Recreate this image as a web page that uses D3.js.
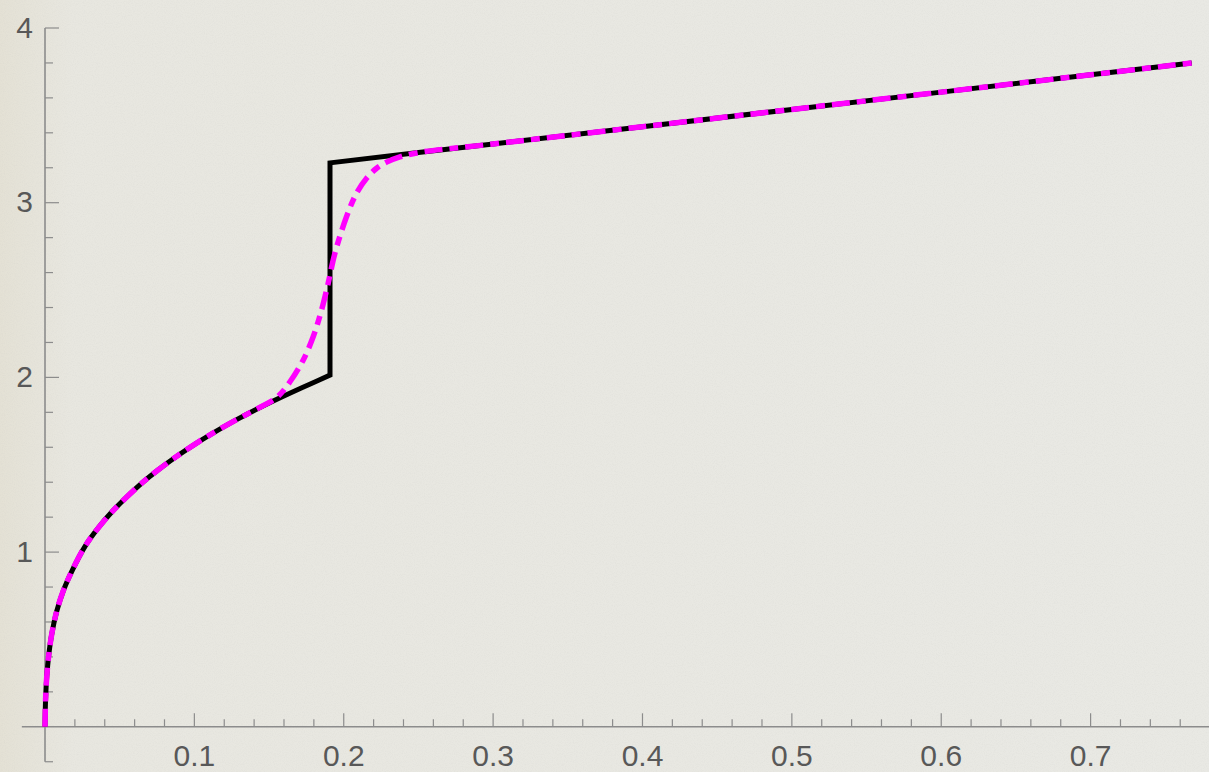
<!DOCTYPE html>
<html>
<head>
<meta charset="utf-8">
<script src="https://cdn.jsdelivr.net/npm/d3@7"></script>
<style>
  html, body { margin: 0; padding: 0; background: #e8e7e1; overflow: hidden; }
  svg { display: block; }
</style>
</head>
<body>
<svg id="chart" width="1209" height="772"></svg>
<script>
// Lower branch (shared by both curves up to the jump)
const lowerX = [0, 0.0004, 0.0012, 0.0025, 0.0045, 0.0078, 0.0123, 0.0185, 0.0268, 0.0357, 0.0450, 0.0547, 0.0650, 0.0748, 0.0880, 0.1015, 0.1150, 0.1283, 0.1400, 0.1528, 0.1650, 0.1780, 0.1908];
const lowerY = [0, 0.16, 0.29, 0.41, 0.53, 0.66, 0.78, 0.90, 1.033, 1.139, 1.232, 1.315, 1.396, 1.464, 1.547, 1.624, 1.694, 1.758, 1.811, 1.865, 1.914, 1.964, 2.013];

// Upper branch after the jump
const upperX = [0.1908, 0.25, 0.3, 0.4, 0.5, 0.6, 0.7, 0.7677];
const upperY = [3.228, 3.287, 3.336, 3.435, 3.534, 3.633, 3.732, 3.80];

// Smooth transition of the dot-dashed curve across the jump
const smoothX = [0.1551, 0.1640, 0.1729, 0.1796, 0.1852, 0.1896, 0.1941, 0.2019, 0.2086, 0.2153, 0.2220, 0.2287, 0.2376];
const smoothY = [1.885, 1.975, 2.100, 2.234, 2.387, 2.540, 2.711, 2.921, 3.055, 3.140, 3.197, 3.232, 3.262];

// Axis ticks
const xMajorTicks = [0.1, 0.2, 0.3, 0.4, 0.5, 0.6, 0.7];
const xTickLabels = ["0.1", "0.2", "0.3", "0.4", "0.5", "0.6", "0.7"];
const yMajorTicks = [1, 2, 3, 4];
const yTickLabels = ["1", "2", "3", "4"];

const W = 1209, H = 772;
const svg = d3.select("#chart");

const x = d3.scaleLinear().domain([0, 0.7]).range([45, 1090.6]);
const y = d3.scaleLinear().domain([0, 4]).range([726.8, 28]);

// Background with a faint paper grain
const defs = svg.append("defs");
const grad = defs.append("linearGradient").attr("id", "bg").attr("x1", 0).attr("x2", 1).attr("y1", 0).attr("y2", 0);
grad.append("stop").attr("offset", "0").attr("stop-color", "#e4e1d5");
grad.append("stop").attr("offset", "0.06").attr("stop-color", "#e8e7e0");
grad.append("stop").attr("offset", "1").attr("stop-color", "#e9e9e4");
const grain = defs.append("filter").attr("id", "grain").attr("x", 0).attr("y", 0).attr("width", "100%").attr("height", "100%");
grain.append("feTurbulence").attr("type", "fractalNoise").attr("baseFrequency", 0.9).attr("numOctaves", 2).attr("seed", 3);
grain.append("feColorMatrix").attr("type", "matrix")
  .attr("values", "0 0 0 0 0.5  0 0 0 0 0.5  0 0 0 0 0.48  0 0 0 0.9 -0.35");
svg.append("rect").attr("width", W).attr("height", H).attr("fill", "url(#bg)");
svg.append("rect").attr("width", W).attr("height", H).attr("filter", "url(#grain)").attr("opacity", 0.25);

const axisColor = "#8c8c8c";
const labelColor = "#585858";
const font = "'Liberation Sans', Arial, sans-serif";

// X axis line and ticks
const gx = svg.append("g");
gx.append("line")
  .attr("x1", x(-0.0155)).attr("x2", W)
  .attr("y1", y(0)).attr("y2", y(0))
  .attr("stroke", axisColor).attr("stroke-width", 1.6);
const xMinor = d3.range(1, 40).map(i => i * 0.02).filter(v => x(v) < W && Math.abs(v * 10 - Math.round(v * 10)) > 1e-6);
gx.selectAll(".xminor").data(xMinor).join("line")
  .attr("x1", d => x(d)).attr("x2", d => x(d))
  .attr("y1", y(0)).attr("y2", y(0) - 7.5)
  .attr("stroke", axisColor).attr("stroke-width", 1.2);
gx.selectAll(".xmajor").data(xMajorTicks).join("line")
  .attr("x1", d => x(d)).attr("x2", d => x(d))
  .attr("y1", y(0)).attr("y2", y(0) - 13.5)
  .attr("stroke", axisColor).attr("stroke-width", 1.2);
gx.selectAll("text").data(xMajorTicks).join("text")
  .attr("x", d => x(d)).attr("y", 766)
  .attr("text-anchor", "middle")
  .attr("font-family", font)
  .attr("font-size", 30).attr("fill", labelColor)
  .text((d, i) => xTickLabels[i]);

// Y axis line and ticks
const gy = svg.append("g");
gy.append("line")
  .attr("x1", x(0)).attr("x2", x(0))
  .attr("y1", y(-0.2)).attr("y2", y(4))
  .attr("stroke", axisColor).attr("stroke-width", 1.6);
const yMinor = d3.range(-1, 21).map(i => i * 0.2).filter(v => Math.abs(v - Math.round(v)) > 1e-6);
gy.selectAll(".yminor").data(yMinor).join("line")
  .attr("x1", x(0)).attr("x2", x(0) + 8)
  .attr("y1", d => y(d)).attr("y2", d => y(d))
  .attr("stroke", axisColor).attr("stroke-width", 1.2);
gy.selectAll(".ymajor").data(yMajorTicks).join("line")
  .attr("x1", x(0)).attr("x2", x(0) + 14)
  .attr("y1", d => y(d)).attr("y2", d => y(d))
  .attr("stroke", axisColor).attr("stroke-width", 1.2);
gy.selectAll("text").data(yMajorTicks).join("text")
  .attr("x", 33).attr("y", d => y(d) + 9.5)
  .attr("text-anchor", "end")
  .attr("font-family", font)
  .attr("font-size", 30).attr("fill", labelColor)
  .text((d, i) => yTickLabels[i]);

// Curves
const pts = (xs, ys) => xs.map((v, i) => [v, ys[i]]);
const smoothLine = d3.line().x(d => x(d[0])).y(d => y(d[1])).curve(d3.curveCatmullRom.alpha(0.5));
const straightLine = d3.line().x(d => x(d[0])).y(d => y(d[1]));

// Solid curve: smooth lower branch, vertical jump, straight upper branch
const lowerPts = pts(lowerX, lowerY);
const jumpPts = [[lowerX[lowerX.length - 1], lowerY[lowerY.length - 1]]].concat(pts(upperX, upperY));
const solidPath = smoothLine(lowerPts) + straightLine(jumpPts).replace(/^M/, "L");
svg.append("path")
  .attr("d", solidPath)
  .attr("fill", "none").attr("stroke", "#000")
  .attr("stroke-width", 5).attr("stroke-linejoin", "miter");

// Dot-dashed curve: follows the lower branch, rises smoothly, joins the upper branch
const nShared = lowerX.findIndex(v => v >= 0.1528);
const dashPts = pts(lowerX.slice(0, nShared), lowerY.slice(0, nShared))
  .concat(pts(smoothX, smoothY))
  .concat(pts(upperX.slice(1), upperY.slice(1)));
svg.append("path")
  .attr("d", smoothLine(dashPts))
  .attr("fill", "none").attr("stroke", "#ff00ff")
  .attr("stroke-width", 5.5)
  .attr("stroke-dasharray", "18,7,9,7");
</script>
</body>
</html>
